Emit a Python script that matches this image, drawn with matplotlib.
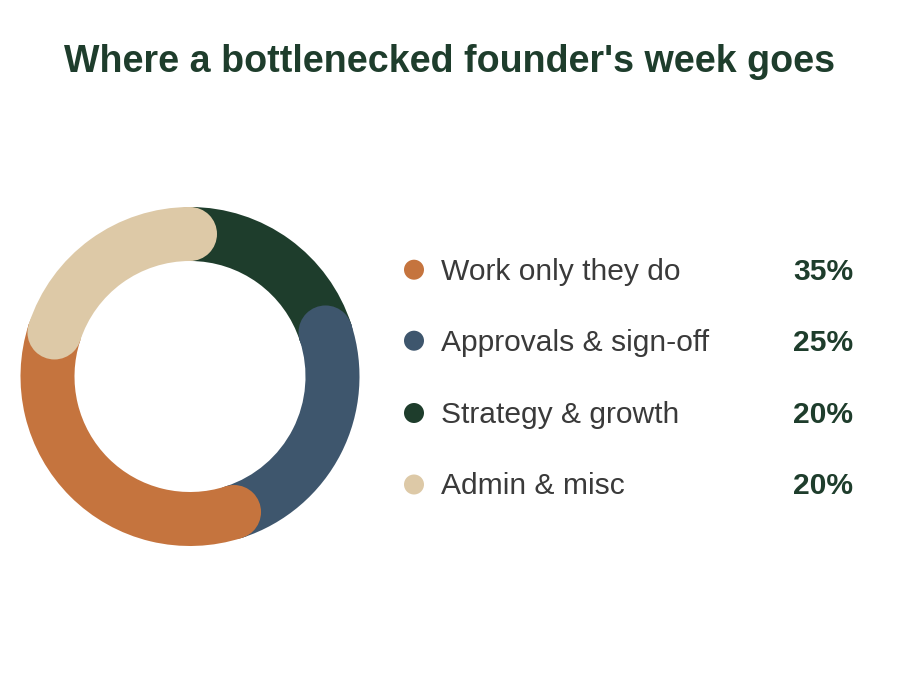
import matplotlib
matplotlib.use("Agg")
import matplotlib.pyplot as plt
from matplotlib.patches import Wedge, Circle
import numpy as np

plt.rcParams['font.family'] = ['Liberation Sans', 'DejaVu Sans']

# ---- data ----
categories = ["Work only they do", "Approvals & sign-off", "Strategy & growth", "Admin & misc"]
values = [35, 25, 20, 20]
pct_labels = ["35%", "25%", "20%", "20%"]
title = "Where a bottlenecked founder's week goes"

# ---- style ----
colors = ["#C5743E", "#3E566D", "#1E3D2C", "#DDC9A7"]
layer = [3, 2, 1, 4]          # stacking order of the rounded segments
title_color = "#1E3D2C"
label_color = "#3A3A3A"

W, H = 900, 700
fig = plt.figure(figsize=(9, 7), dpi=100)
ax = fig.add_axes([0, 0, 1, 1])
ax.set_xlim(0, W)
ax.set_ylim(0, H)
ax.set_aspect('equal')
ax.axis('off')

# donut geometry (pixel layout)
cx, cy = 190, H - 376.5
r_out, r_in = 169.5, 115.5
ring = r_out - r_in
r_mid = (r_out + r_in) / 2
start = 162.0

total = sum(values)
edges = start + np.concatenate([[0], np.cumsum(values)]) / total * 360.0

for i, (v, c) in enumerate(zip(values, colors)):
    t1, t2 = edges[i], edges[i + 1]
    z = layer[i] * 2
    ax.add_patch(Wedge((cx, cy), r_out, t1, t2, width=ring, facecolor=c,
                       edgecolor='none', zorder=z))
    for t in (t1, t2):
        a = np.deg2rad(t)
        ax.add_patch(Circle((cx + r_mid * np.cos(a), cy + r_mid * np.sin(a)),
                            ring / 2, facecolor=c, edgecolor='none', zorder=z))

# legend
row_y = [269.7, 340.7, 413, 484.5]
for i, (lab, p, c) in enumerate(zip(categories, pct_labels, colors)):
    y = H - row_y[i]
    ax.add_patch(Circle((414, y), 10, facecolor=c, edgecolor='none'))
    ax.text(441, y - 10, lab, fontsize=21.6, color=label_color, va='baseline', ha='left')
    ax.text(853, y - 10, p, fontsize=21.6, color=title_color, va='baseline', ha='right',
            fontweight='bold')

ax.text(W / 2, H - 72, title, fontsize=27.1, fontweight='bold', color=title_color,
        ha='center', va='baseline')

fig.savefig("out.png", dpi=100, facecolor='white')
